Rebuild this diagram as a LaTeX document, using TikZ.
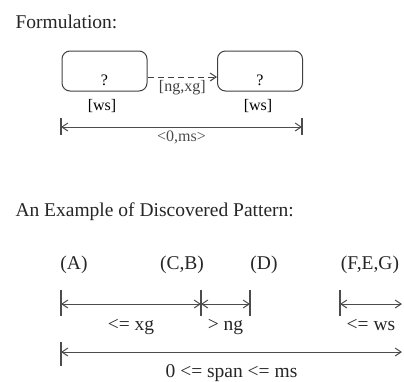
\documentclass[tikz,border=0pt]{standalone}
\usepackage{fontspec}
\setmainfont{Liberation Serif}
\usetikzlibrary{arrows.meta,positioning}
\newcommand{\bigtxt}{\fontsize{19.5}{23}\selectfont}
\newcommand{\smalltxt}{\fontsize{16}{19}\selectfont}

\begin{document}
\begin{tikzpicture}[x=1pt, y=-1pt, >={Straight Barb[length=6pt,width=8pt]},
  patbox/.style={draw=black!75, line width=1pt, rounded corners=8pt, minimum width=85pt, minimum height=40pt, text height=29pt, font=\smalltxt},
  dimline/.style={<->, line width=1pt, black!70},
  endtick/.style={line width=1.4pt, black!70},
  lbl/.style={font=\bigtxt, text=black!85}]
  \useasboundingbox (0,0) rectangle (404,381);
  % formulation
  \node[lbl, anchor=base west] (formtitle) at (12,28) {Formulation:};
  \node[patbox] (first) at (104.5,71) {?};
  \node[patbox] (second) at (260,71) {?};
  \draw[->, black!75, line width=1pt, dash pattern=on 6pt off 4pt] ([yshift=-6pt]first.east) -- node[below, font=\smalltxt, inner sep=2.5pt] {[ng,xg]} ([yshift=-6pt]second.west);
  \node[anchor=base, font=\smalltxt] (lws) at (102,110) {[ws]};
  \node[anchor=base, font=\smalltxt] (rws) at (258,110) {[ws]};
  \coordinate (s0) at (61,127);
  \coordinate (s1) at (302,127);
  \draw[endtick] (s0) ++(0,-9) -- ++(0,17);
  \draw[endtick] (s1) ++(0,-9) -- ++(0,17);
  \draw[dimline] (s0) -- node[below, font=\smalltxt, inner sep=3pt] {<0,ms>} (s1);
  % example pattern
  \node[lbl, anchor=base west] (extitle) at (12,216) {An Example of Discovered Pattern:};
  \node[lbl, anchor=base] (ea) at (74,269) {(A)};
  \node[lbl, anchor=base] (ecb) at (182,269) {(C,B)};
  \node[lbl, anchor=base] (ed) at (264,269) {(D)};
  \node[lbl, anchor=base] (efeg) at (370,269) {(F,E,G)};
  \coordinate (r0) at (61,304);
  \coordinate (r1) at (201,304);
  \coordinate (r2) at (250,304);
  \coordinate (r3) at (340,304);
  \coordinate (r4) at (402,304);
  \foreach \p in {r0,r1,r2,r3}
    \draw[endtick] (\p) ++(0,-14) -- ++(0,26);
  \draw[dimline] (r0) -- node[lbl, below=11pt] {<= xg} (r1);
  \draw[dimline] (r1) -- node[lbl, below=11pt] {> ng} (r2);
  \draw[dimline] (r3) -- node[lbl, below=11pt] {<= ws} (r4);
  \coordinate (b0) at (61,352);
  \coordinate (b1) at (402,352);
  \draw[endtick] (b0) ++(0,-10) -- ++(0,24);
  \draw[dimline] (b0) -- node[lbl, below=9pt] {0 <= span <= ms} (b1);
\end{tikzpicture}
\end{document}
